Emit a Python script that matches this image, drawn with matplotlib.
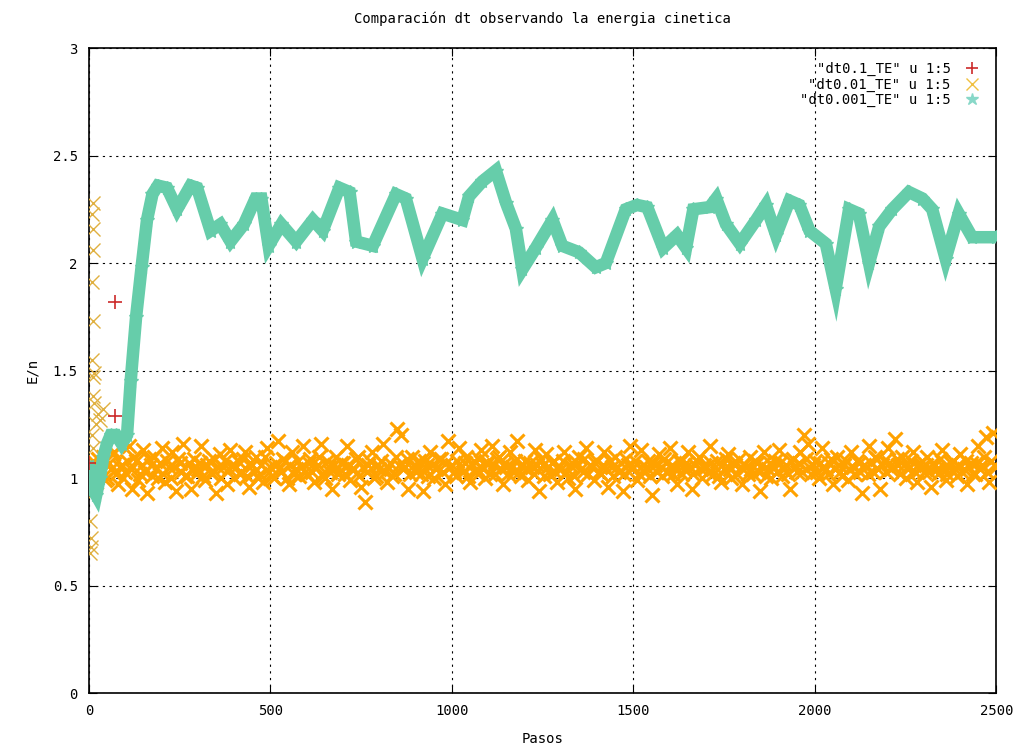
import matplotlib
matplotlib.use("Agg")
import matplotlib.pyplot as plt
from matplotlib.lines import Line2D

plt.rcParams['font.family'] = ['DejaVu Sans Mono', 'DejaVu Sans']

# dt = 0.1 (red +)
steps_01 = [0, 72, 72]
energy_01 = [1.07, 1.82, 1.29]

# dt = 0.01 (orange x): early scattered points
steps_001_early = [11, 9, 12, 10, 8, 11, 9, 12, 15, 10, 13, 39, 30, 11, 8, 5, 4, 6, 3, 7, 20, 25]
energy_001_early = [2.28, 2.23, 2.16, 2.06, 1.91, 1.73, 1.55, 1.47, 1.49, 1.38, 1.35, 1.32,
                    1.27, 1.14, 1.2, 0.92, 0.8, 0.72, 0.65, 0.68, 1.25, 1.3]

# dt = 0.01 bulk, one value every 10 steps from 0 to 2500
steps_001 = list(range(0, 2501, 10))
energy_001 = [
    1.02, 1.08, 0.98, 1.05, 1.10, 1.00, 1.04, 1.12, 0.97, 1.06,
    1.03, 1.15, 0.95, 1.08, 1.02, 1.13, 0.93, 1.06, 1.10, 1.00,
    1.14, 0.98, 1.05, 1.12, 0.94, 1.07, 1.16, 1.01, 0.95, 1.09,
    1.04, 1.15, 0.99, 1.08, 1.02, 0.93, 1.11, 1.05, 0.97, 1.13,
    1.00, 1.08, 1.03, 1.12, 0.96, 1.06, 1.10, 1.02, 0.98, 1.14,
    1.05, 1.00, 1.17, 1.03, 1.08, 0.97, 1.12, 1.04, 1.01, 1.15,
    1.02, 1.09, 0.98, 1.06, 1.16, 1.00, 1.05, 0.95, 1.10, 1.03,
    1.07, 1.15, 0.99, 1.04, 1.10, 0.96, 0.89, 1.06, 1.12, 1.01,
    1.04, 1.16, 0.98, 1.07, 1.02, 1.23, 1.20, 1.05, 0.95, 1.10,
    1.03, 1.08, 0.94, 1.06, 1.12, 1.00, 1.05, 1.09, 0.97, 1.17,
    1.06, 1.01, 1.14, 1.03, 1.10, 0.98, 1.08, 1.04, 1.13, 1.00,
    1.07, 1.15, 1.02, 1.10, 0.97, 1.05, 1.12, 1.03, 1.17, 1.01,
    1.08, 0.99, 1.05, 1.13, 0.94, 1.06, 1.11, 1.02, 1.08, 0.98,
    1.04, 1.12, 1.00, 1.07, 0.95, 1.10, 1.03, 1.14, 1.06, 0.99,
    1.08, 1.02, 1.12, 0.96, 1.05, 1.10, 1.03, 0.94, 1.09, 1.15,
    1.05, 0.99, 1.13, 1.03, 1.08, 0.92, 1.06, 1.11, 1.01, 1.07,
    1.14, 1.02, 0.97, 1.08, 1.04, 1.12, 0.95, 1.06, 1.10, 1.00,
    1.05, 1.15, 1.02, 1.08, 0.98, 1.04, 1.11, 1.00, 1.06, 1.09,
    0.97, 1.05, 1.10, 1.02, 1.07, 0.94, 1.12, 1.04, 1.00, 1.08,
    1.13, 1.01, 1.06, 0.95, 1.09, 1.03, 1.12, 1.20, 1.16, 1.02,
    1.08, 1.00, 1.14, 1.04, 1.07, 0.97, 1.10, 1.03, 1.06, 0.99,
    1.12, 1.02, 1.07, 0.93, 1.05, 1.15, 1.03, 1.09, 0.95, 1.08,
    1.14, 1.04, 1.18, 1.06, 1.10, 1.00, 1.05, 1.12, 0.98, 1.07,
    1.03, 1.10, 0.96, 1.06, 1.02, 1.13, 0.99, 1.05, 1.08, 1.01,
    1.11, 1.04, 0.97, 1.07, 1.02, 1.15, 1.06, 1.19, 0.98, 1.21,
    1.05,
]

# dt = 0.01 bulk, the values in between (steps 5, 15, ..., 2495)
steps_001_mid = list(range(5, 2500, 10))
energy_001_mid = [
    1.06, 1.01, 1.09, 1.03, 0.99, 1.07, 1.11, 1.02, 1.05, 1.00,
    1.08, 1.04, 1.10, 0.99, 1.06, 1.03, 1.09, 1.01, 1.04, 1.07,
    1.02, 1.08, 1.00, 1.05, 1.09, 1.03, 1.01, 1.07, 1.04, 1.02,
    1.07, 1.01, 1.06, 1.03, 1.09, 1.05, 1.00, 1.08, 1.04, 1.06,
    1.05, 1.02, 1.09, 1.01, 1.07, 1.03, 1.00, 1.06, 1.10, 1.03,
    1.01, 1.07, 1.04, 1.09, 1.00, 1.06, 1.02, 1.08, 1.05, 1.03,
    1.07, 1.03, 1.05, 1.10, 1.01, 1.08, 1.03, 1.06, 1.02, 1.07,
    1.02, 1.06, 1.04, 1.09, 1.01, 1.05, 1.03, 1.08, 1.00, 1.06,
    1.08, 1.03, 1.05, 1.01, 1.10, 1.06, 1.04, 1.09, 1.02, 1.06,
    1.05, 1.02, 1.08, 1.01, 1.06, 1.04, 1.09, 1.03, 1.07, 1.05,
    1.03, 1.08, 1.05, 1.07, 1.01, 1.06, 1.03, 1.09, 1.04, 1.07,
    1.02, 1.06, 1.09, 1.04, 1.07, 1.02, 1.05, 1.08, 1.03, 1.06,
    1.04, 1.07, 1.02, 1.06, 1.09, 1.01, 1.05, 1.07, 1.03, 1.05,
    1.08, 1.03, 1.06, 1.01, 1.07, 1.04, 1.09, 1.02, 1.05, 1.07,
    1.03, 1.06, 1.04, 1.08, 1.01, 1.05, 1.07, 1.02, 1.06, 1.04,
    1.08, 1.02, 1.06, 1.05, 1.01, 1.07, 1.03, 1.05, 1.09, 1.03,
    1.06, 1.04, 1.08, 1.02, 1.07, 1.05, 1.02, 1.08, 1.04, 1.06,
    1.03, 1.07, 1.05, 1.01, 1.06, 1.09, 1.04, 1.07, 1.02, 1.05,
    1.06, 1.02, 1.04, 1.08, 1.03, 1.06, 1.01, 1.07, 1.05, 1.03,
    1.07, 1.04, 1.02, 1.08, 1.05, 1.07, 1.03, 1.09, 1.05, 1.06,
    1.03, 1.07, 1.05, 1.02, 1.09, 1.04, 1.06, 1.01, 1.08, 1.04,
    1.05, 1.08, 1.03, 1.06, 1.02, 1.07, 1.10, 1.04, 1.06, 1.03,
    1.07, 1.05, 1.09, 1.02, 1.06, 1.04, 1.08, 1.03, 1.06, 1.05,
    1.06, 1.03, 1.07, 1.04, 1.09, 1.05, 1.02, 1.07, 1.04, 1.06,
    1.03, 1.08, 1.05, 1.02, 1.07, 1.04, 1.10, 1.03, 1.08, 1.06,
]

# dt = 0.001 (teal *)
steps_0001 = [0, 10, 20, 30, 40, 50, 60, 75, 90, 105, 115, 130, 145, 160, 175, 190,
              215, 243, 280, 298, 335, 362, 390, 427, 459, 475, 495, 530, 571, 617,
              644, 690, 718, 736, 782, 846, 873, 919, 974, 1029, 1047, 1084, 1121,
              1149, 1176, 1194, 1231, 1277, 1304, 1350, 1396, 1424, 1479, 1510, 1538,
              1582, 1620, 1645, 1665, 1710, 1728, 1755, 1793, 1838, 1865, 1893, 1930,
              1957, 1985, 2030, 2057, 2094, 2121, 2149, 2177, 2213, 2259, 2296, 2323,
              2360, 2396, 2433, 2500]
energy_0001 = [1.05, 0.95, 0.92, 1.0, 1.1, 1.16, 1.2, 1.2, 1.16, 1.2, 1.45, 1.75, 1.98,
               2.2, 2.32, 2.36, 2.35, 2.25, 2.36, 2.35, 2.15, 2.18, 2.1, 2.18, 2.3, 2.3,
               2.08, 2.18, 2.1, 2.2, 2.15, 2.35, 2.33, 2.1, 2.08, 2.32, 2.3, 2.02, 2.23,
               2.2, 2.31, 2.38, 2.43, 2.28, 2.16, 1.97, 2.07, 2.2, 2.08, 2.05, 1.98, 2.0,
               2.25, 2.27, 2.26, 2.07, 2.13, 2.07, 2.25, 2.26, 2.3, 2.18, 2.09, 2.2, 2.27,
               2.13, 2.29, 2.27, 2.15, 2.09, 1.88, 2.25, 2.23, 2.0, 2.17, 2.25, 2.33, 2.3,
               2.25, 2.02, 2.23, 2.12, 2.12]

ytick_vals = [0, 0.5, 1, 1.5, 2, 2.5, 3]
ytick_labels = ["0", "0.5", "1", "1.5", "2", "2.5", "3"]
xtick_vals = [0, 500, 1000, 1500, 2000, 2500]

red = "#cc2a2a"
orange = "#ffa200"
teal = "#66cdaa"

fig = plt.figure(figsize=(10.22, 7.56), dpi=100)
ax = fig.add_axes([0.087, 0.0833, 0.888, 0.8532])

ax.plot(steps_01, energy_01, ls="none", marker="+", color=red, ms=10, mew=1.2, zorder=5)
ax.plot(steps_001 + steps_001_mid, energy_001 + energy_001_mid, ls="none", marker="x",
        color=orange, ms=10, mew=2.2, zorder=3)
ax.plot(steps_001_early, energy_001_early, ls="none", marker="x",
        color="#e0b040", ms=10, mew=1, zorder=3)
ax.plot(steps_0001, energy_0001, color=teal, lw=9, solid_joinstyle="miter", zorder=4)
ax.plot(steps_0001, energy_0001, ls="none", marker="*", color=teal, ms=10, zorder=4)

ax.set_xlim(0, 2500)
ax.set_ylim(0, 3)
ax.set_xticks(xtick_vals)
ax.set_yticks(ytick_vals)
ax.set_yticklabels(ytick_labels)
ax.tick_params(direction="in", top=True, right=True, length=6, labelsize=10, pad=8)
ax.grid(True, color="black", linestyle=(0, (2, 4)), linewidth=0.8)
for s in ax.spines.values():
    s.set_linewidth(1.2)

ax.set_title("Comparación dt observando la energia cinetica", fontsize=10, pad=18)
ax.set_xlabel("Pasos", fontsize=10, labelpad=10)
ax.set_ylabel("E/n", fontsize=10, labelpad=10)

handles = [
    Line2D([], [], ls="none", marker="+", color=red, ms=9, mew=1.2),
    Line2D([], [], ls="none", marker="x", color="#f0c040", ms=8, mew=1),
    Line2D([], [], ls="none", marker="*", color="#88d8c8", ms=9),
]
labels = ['"dt0.1_TE" u 1:5', '"dt0.01_TE" u 1:5', '"dt0.001_TE" u 1:5']
ax.legend(handles, labels, loc="upper right", frameon=False, markerfirst=False,
          fontsize=10, handlelength=1.5, labelspacing=0.1, borderaxespad=0.6)

fig.savefig("out.png", dpi=100)
